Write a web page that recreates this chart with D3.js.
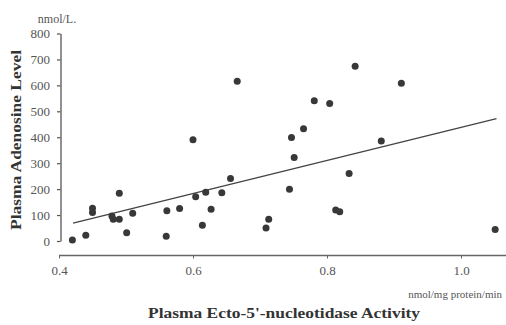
<!DOCTYPE HTML>
<html>
<head>
	<title>Plasma Adenosine vs Ecto-5'-nucleotidase</title>
	<meta charset="utf-8">
	<script src="https://cdn.jsdelivr.net/npm/d3@7/dist/d3.min.js" type="text/javascript"></script>
	<style>
		body { margin:0; background:#fff; }
		svg { display:block; }
	</style>
</head>
<body>
	<div id="main"></div>
<script>
// ecto-5'-nucleotidase activity, nmol/mg protein/min
var activity = [0.420, 0.440, 0.450, 0.450, 0.479, 0.481, 0.490, 0.490, 0.501, 0.510,
	0.561, 0.560, 0.580, 0.600, 0.604, 0.614, 0.619, 0.627, 0.643, 0.656,
	0.666, 0.709, 0.713, 0.744, 0.751, 0.747, 0.765, 0.781, 0.804, 0.813,
	0.819, 0.833, 0.842, 0.881, 0.911, 1.051];
// plasma adenosine, nmol/L
var adenosine = [4, 22, 126, 110, 96, 84, 84, 184, 32, 107,
	117, 18, 125, 390, 171, 61, 188, 122, 186, 241,
	616, 50, 84, 200, 322, 399, 433, 541, 530, 120,
	113, 260, 674, 386, 608, 44];

var xTicks = [0.4, 0.6, 0.8, 1.0];
var xTickLabels = ['0.4', '0.6', '0.8', '1.0'];
var yTicks = [0, 100, 200, 300, 400, 500, 600, 700, 800];

// regression line end points
var fitX = [0.421, 1.053];
var fitY = [69, 472];

var width = 506, height = 325;

var svg = d3.select('#main').append('svg')
	.attr('width', width)
	.attr('height', height)
	.style('font-family', '"Liberation Serif", "DejaVu Serif", serif');

var x = d3.scaleLinear().domain([0.4, 1.0]).range([59, 461]);
var y = d3.scaleLinear().domain([0, 800]).range([241, 33.5]);

// y axis
var yAxis = svg.append('g')
	.attr('transform', 'translate(60.5,0)')
	.call(d3.axisLeft(y).tickValues(yTicks).tickSize(3.5).tickPadding(7).tickSizeOuter(0));
yAxis.select('.domain').attr('stroke', '#555').attr('stroke-width', 1.3);
yAxis.selectAll('.tick line').attr('stroke', '#555').attr('stroke-width', 1.2);
yAxis.selectAll('.tick text')
	.attr('fill', '#555')
	.style('font-size', '13px')
	.style('font-family', '"Liberation Serif", serif');

// x axis, detached below the plot, runs out to the page edge
var xAxis = svg.append('g')
	.attr('transform', 'translate(0,255.5)')
	.call(d3.axisBottom(x).tickValues(xTicks).tickFormat(function(d, i){
		return xTickLabels[i];
	}).tickSize(3).tickPadding(7).tickSizeOuter(0));
xAxis.select('.domain').attr('d', 'M59,0H' + width).attr('stroke', '#666').attr('stroke-width', 1.3);
xAxis.selectAll('.tick line').attr('stroke', '#666');
xAxis.selectAll('.tick text')
	.attr('fill', '#555')
	.style('font-size', '13px')
	.style('font-family', '"Liberation Serif", serif');

// regression line
svg.append('line')
	.attr('x1', x(fitX[0]))
	.attr('y1', y(fitY[0]))
	.attr('x2', x(fitX[1]))
	.attr('y2', y(fitY[1]))
	.attr('stroke', '#444')
	.attr('stroke-width', 1.4);

// points
svg.selectAll('circle.pt')
	.data(activity)
	.enter()
	.append('circle')
	.attr('class', 'pt')
	.attr('cx', function(d){
		return x(d);
	})
	.attr('cy', function(d, i){
		return y(adenosine[i]);
	})
	.attr('r', 3.5)
	.attr('fill', '#383838');

// units
svg.append('text')
	.attr('x', 57)
	.attr('y', 23)
	.attr('text-anchor', 'middle')
	.attr('fill', '#555')
	.style('font-size', '12px')
	.text('nmol/L.');

svg.append('text')
	.attr('x', 502)
	.attr('y', 298)
	.attr('text-anchor', 'end')
	.attr('fill', '#555')
	.style('font-size', '11px')
	.text('nmol/mg protein/min');

// axis titles
svg.append('text')
	.attr('transform', 'translate(21,140) rotate(-90)')
	.attr('text-anchor', 'middle')
	.attr('textLength', 180)
	.attr('lengthAdjust', 'spacingAndGlyphs')
	.attr('fill', '#333')
	.style('font-size', '15px')
	.style('font-weight', 'bold')
	.text('Plasma Adenosine Level');

svg.append('text')
	.attr('x', 284)
	.attr('y', 318)
	.attr('text-anchor', 'middle')
	.attr('textLength', 272)
	.attr('lengthAdjust', 'spacingAndGlyphs')
	.attr('fill', '#333')
	.style('font-size', '15px')
	.style('font-weight', 'bold')
	.text("Plasma Ecto-5'-nucleotidase Activity");
</script>
</body>
</html>
